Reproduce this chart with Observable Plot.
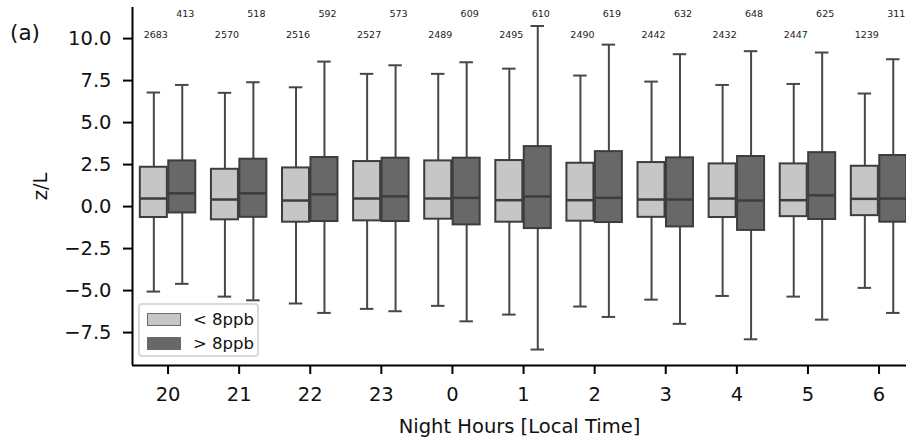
<!DOCTYPE html>
<html>
<head>
<meta charset="utf-8">
<script src="https://cdn.jsdelivr.net/npm/d3@7"></script>
<script src="https://cdn.jsdelivr.net/npm/@observablehq/plot@0.6"></script>
<style>
  html, body { margin: 0; padding: 0; background: white; overflow: hidden; }
  #wrap { position: relative; width: 906px; height: 438px; font-family: "DejaVu Sans", sans-serif; }
  #panel { position: absolute; left: 10px; top: 20px; font-size: 21.5px; color: #111; }
  #legend { position: absolute; left: 138px; top: 303px; width: 117px; height: 50px;
            border: 2px solid #d9d9d9; border-radius: 4px; background: rgba(255,255,255,0.85); }
  .li { position: absolute; left: 7px; height: 14px; display: flex; align-items: center; font-size: 16.5px; color: #111; }
  .sw { width: 32px; height: 11px; border: 1px solid #6a6a6a; margin-right: 12px; }
</style>
</head>
<body>
<div id="wrap">
  <div id="chart"></div>
  <div id="panel">(a)</div>
  <div id="legend"></div>
</div>
<script>
// ---- data ----
const hours = ["20", "21", "22", "23", "0", "1", "2", "3", "4", "5", "6"];
const groups = ["< 8ppb", "> 8ppb"];
const groupColors = ["#c6c6c6", "#686868"];

const countsLow  = [2683, 2570, 2516, 2527, 2489, 2495, 2490, 2442, 2432, 2447, 1239];
const countsHigh = [413, 518, 592, 573, 609, 610, 619, 632, 648, 625, 311];

const lowWhiskerMin = [-5.06, -5.36, -5.77, -6.09, -5.91, -6.43, -5.95, -5.54, -5.32, -5.36, -4.84];
const lowQ1         = [-0.65, -0.79, -0.93, -0.85, -0.75, -0.93, -0.87, -0.64, -0.65, -0.60, -0.54];
const lowMedian     = [0.48, 0.42, 0.36, 0.48, 0.48, 0.38, 0.38, 0.42, 0.48, 0.38, 0.46];
const lowQ3         = [2.34, 2.22, 2.30, 2.68, 2.72, 2.74, 2.58, 2.62, 2.54, 2.54, 2.40];
const lowWhiskerMax = [6.79, 6.77, 7.10, 7.90, 7.90, 8.21, 7.80, 7.44, 7.24, 7.30, 6.73];

const highWhiskerMin = [-4.60, -5.58, -6.33, -6.23, -6.83, -8.51, -6.57, -6.98, -7.90, -6.73, -6.33];
const highQ1         = [-0.38, -0.64, -0.89, -0.89, -1.09, -1.31, -0.95, -1.21, -1.42, -0.77, -0.93];
const highMedian     = [0.79, 0.79, 0.73, 0.61, 0.52, 0.60, 0.52, 0.42, 0.36, 0.67, 0.48];
const highQ3         = [2.72, 2.82, 2.92, 2.88, 2.88, 3.57, 3.27, 2.90, 2.98, 3.21, 3.04];
const highWhiskerMax = [7.24, 7.40, 8.63, 8.41, 8.59, 10.75, 9.64, 9.07, 9.25, 9.17, 8.77];

const yTicks = [-7.5, -5.0, -2.5, 0.0, 2.5, 5.0, 7.5, 10.0];

// ---- build table ----
const stats = [
  {wlo: lowWhiskerMin, q1: lowQ1, med: lowMedian, q3: lowQ3, whi: lowWhiskerMax, n: countsLow},
  {wlo: highWhiskerMin, q1: highQ1, med: highMedian, q3: highQ3, whi: highWhiskerMax, n: countsHigh}
];
const dodge = [-0.2, 0.2];
const half = 0.19, capHalf = 0.095;
const rows = [];
hours.forEach((h, i) => {
  groups.forEach((g, k) => {
    const s = stats[k];
    const pos = i + dodge[k];
    rows.push({hour: h, group: g, k, pos, x1: pos - half, x2: pos + half, c1: pos - capHalf, c2: pos + capHalf,
               wlo: s.wlo[i], q1: s.q1[i], med: s.med[i], q3: s.q3[i], whi: s.whi[i], n: s.n[i]});
  });
});

const yMin = -9.46, yMax = 11.85;
const edge = "#3d3d3d", whisk = "#474747";

const chart = Plot.plot({
  width: 906,
  height: 438,
  marginLeft: 132,
  marginRight: 0,
  marginTop: 7,
  marginBottom: 73,
  style: {fontFamily: "DejaVu Sans, sans-serif", fontSize: "19.5px", color: "#111", background: "white"},
  x: {type: "linear", domain: [-0.5, hours.length - 0.5], range: [132, 132 + 71.1 * hours.length]},
  y: {domain: [yMin, yMax]},
  color: {domain: groups, range: groupColors},
  marks: [
    // whiskers
    Plot.ruleX(rows, {x: "pos", y1: "wlo", y2: "q1", stroke: whisk, strokeWidth: 2}),
    Plot.ruleX(rows, {x: "pos", y1: "q3", y2: "whi", stroke: whisk, strokeWidth: 2}),
    Plot.ruleY(rows, {y: "wlo", x1: "c1", x2: "c2", stroke: whisk, strokeWidth: 2}),
    Plot.ruleY(rows, {y: "whi", x1: "c1", x2: "c2", stroke: whisk, strokeWidth: 2}),
    // boxes
    Plot.rect(rows, {x1: "x1", x2: "x2", y1: "q1", y2: "q3", fill: "group", stroke: edge, strokeWidth: 2}),
    Plot.ruleY(rows, {y: "med", x1: "x1", x2: "x2", stroke: edge, strokeWidth: 2.5}),
    // counts
    Plot.text(rows.filter(d => d.k === 0), {x: "pos", y: 10.2, text: d => String(d.n), fontSize: 9.5, fill: "#222", dx: 2}),
    Plot.text(rows.filter(d => d.k === 1), {x: "pos", y: 11.45, text: d => String(d.n), fontSize: 9.5, fill: "#222", dx: 3}),
    // spines
    Plot.ruleX([-0.5], {stroke: "black", strokeWidth: 2}),
    Plot.ruleY([yMin], {stroke: "black", strokeWidth: 2}),
    // axes
    Plot.axisY({ticks: yTicks, tickFormat: d3.format(".1f"), tickSize: 9, tickPadding: 12, strokeWidth: 2,
                stroke: "black", label: "z/L", labelAnchor: "center", labelArrow: "none", labelOffset: 99}),
    Plot.axisX({ticks: d3.range(hours.length), tickFormat: i => hours[i], tickSize: 9, tickPadding: 13,
                strokeWidth: 2, stroke: "black", label: "Night Hours [Local Time]", labelAnchor: "center",
                labelArrow: "none", labelOffset: 67})
  ]
});
document.getElementById("chart").appendChild(chart);

// legend (HTML)
const legend = document.getElementById("legend");
groups.forEach((g, k) => {
  const item = document.createElement("div");
  item.className = "li";
  item.style.top = (7 + k * 24) + "px";
  const sw = document.createElement("span");
  sw.className = "sw";
  sw.style.background = groupColors[k];
  const t = document.createElement("span");
  t.textContent = g;
  item.appendChild(sw); item.appendChild(t);
  legend.appendChild(item);
});
</script>
</body>
</html>
